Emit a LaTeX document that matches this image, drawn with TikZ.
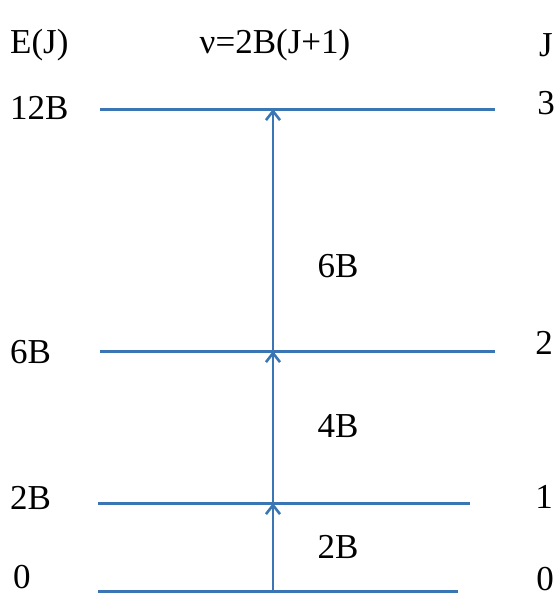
\documentclass[tikz,border=0pt]{standalone}
\usepackage{fontspec}
\setmainfont{Liberation Serif}
\usepackage{xcolor}
\usetikzlibrary{arrows.meta, positioning}
\definecolor{levelblue}{RGB}{58,118,180}
\tikzset{
  level/.style={draw=levelblue, line width=3pt},
  trans/.style={-{Straight Barb[length=9pt, width=14pt]}, draw=levelblue, line width=2.6pt},
  lbl/.style={font=\fontsize{35}{42}\selectfont, inner sep=0pt},
}

\begin{document}
\begin{tikzpicture}[x=1pt, y=-1pt]
  \useasboundingbox (0,0) rectangle (555,597);

  % Column headings
  \node[lbl, anchor=west] (ehead) at (10,45)  {E(J)};
  \node[lbl]              (nuhead) at (275,45) {ν=2B(J+1)};
  \node[lbl]              (jhead) at (546,45) {J};

  % Energy levels
  \coordinate (l3w) at (100,109); \coordinate (l3e) at (495,109);
  \coordinate (l2w) at (100,351); \coordinate (l2e) at (495,351);
  \coordinate (l1w) at (98,503);  \coordinate (l1e) at (470,503);
  \coordinate (l0w) at (98,591);  \coordinate (l0e) at (458,591);
  \draw[level] (l3w) -- (l3e);
  \draw[level] (l2w) -- (l2e);
  \draw[level] (l1w) -- (l1e);
  \draw[level] (l0w) -- (l0e);

  % Energy labels (left)
  \node[lbl, anchor=west] (e3) at (10,108) {12B};
  \node[lbl, anchor=west] (e2) at (10,352) {6B};
  \node[lbl, anchor=west] (e1) at (10,498) {2B};
  \node[lbl, anchor=west] (e0) at (13,577) {0};

  % Quantum numbers (right)
  \node[lbl] (j3) at (546,103) {3};
  \node[lbl] (j2) at (544,343) {2};
  \node[lbl] (j1) at (544,497) {1};
  \node[lbl] (j0) at (545,579) {0};

  % Transitions
  \coordinate (t0) at (273,591);
  \coordinate (t1) at (273,503);
  \coordinate (t2) at (273,351);
  \coordinate (t3) at (273,109);
  \draw[trans] (t0) -- (t1);
  \draw[trans] (t1) -- (t2);
  \draw[trans] (t2) -- (t3);

  % Transition energies
  \node[lbl] (d3) at (338,266) {6B};
  \node[lbl] (d2) at (338,426) {4B};
  \node[lbl] (d1) at (338,547) {2B};

\end{tikzpicture}
\end{document}
